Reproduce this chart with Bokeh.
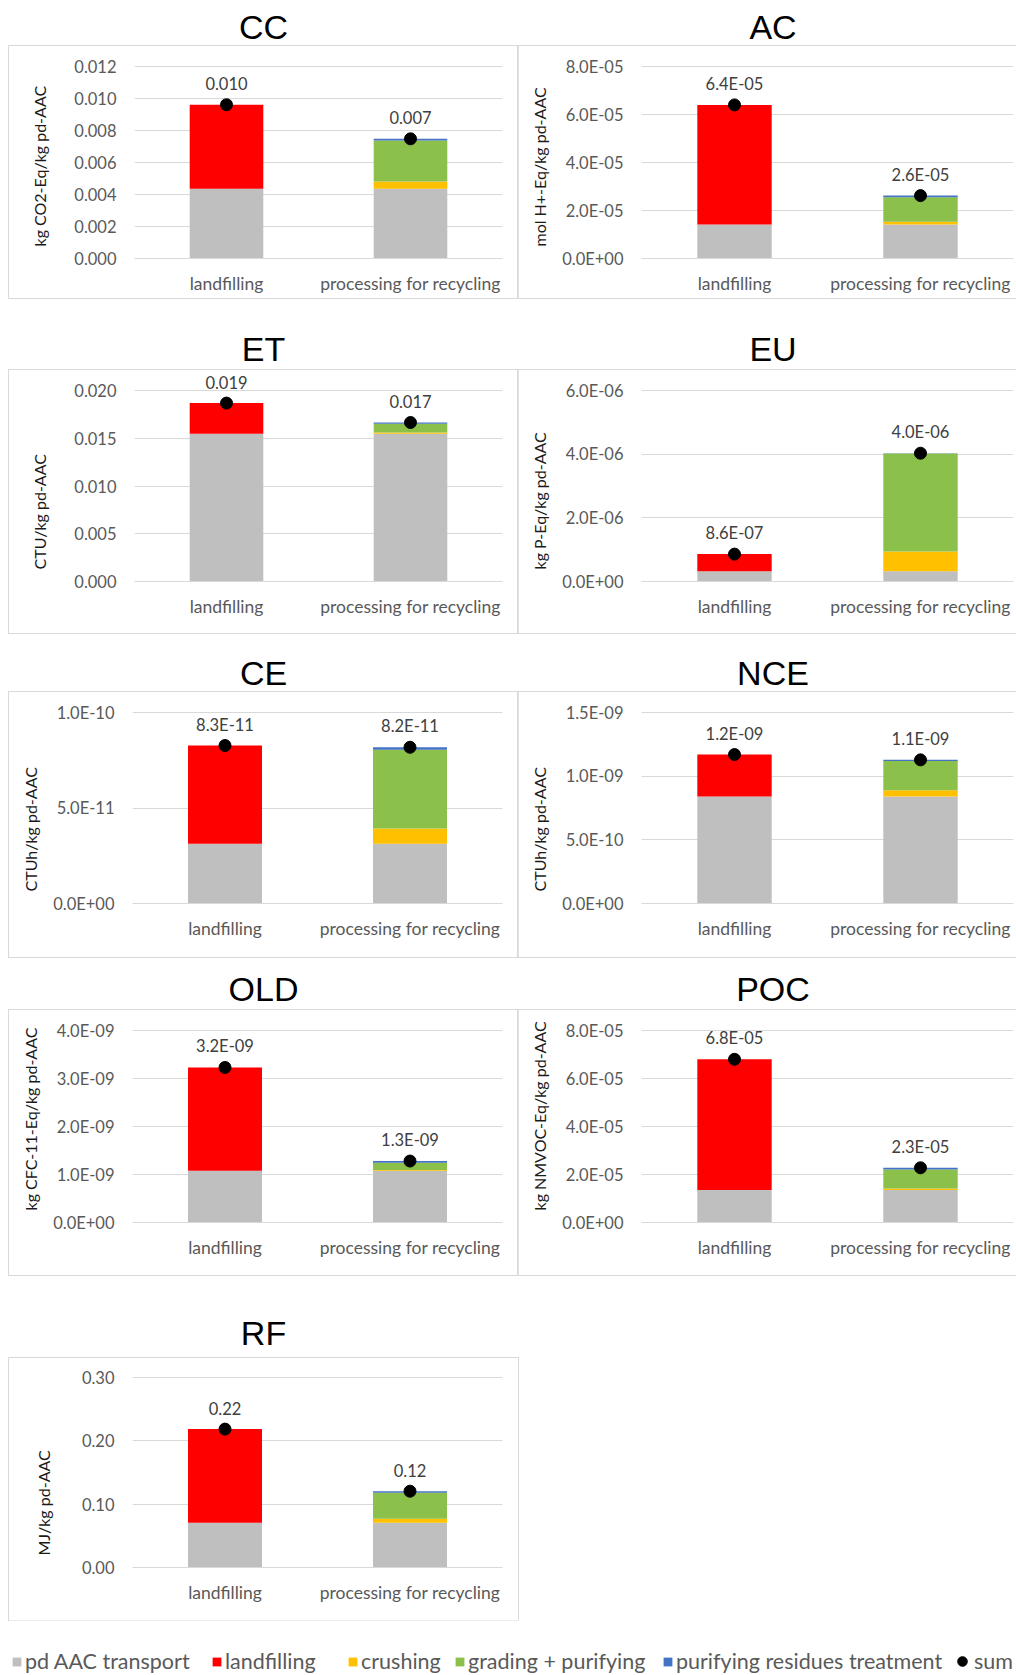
from bokeh.plotting import figure
from bokeh.models import (ColumnDataSource, FactorRange, Range1d, FixedTicker,
                          NumeralTickFormatter, CustomJSTickFormatter, Div, Spacer,
                          Legend, LegendItem, LabelSet, Title)
from bokeh.core.properties import value
from bokeh.layouts import column, row
from bokeh.embed import file_html
from bokeh.resources import INLINE

# ---------------- data ----------------
categories = ["landfilling", "processing for recycling"]
series_names = ["pd AAC transport", "landfilling", "crushing",
                "grading + purifying", "purifying residues treatment"]
series_keys = ["transport", "landfill", "crushing", "grading", "residues"]
series_colors = ["#BFBFBF", "#FF0000", "#FFC000", "#8BC14A", "#4472C4"]

# component order: transport, landfilling, crushing, grading + purifying, residues treatment
CC_landfilling = [0.00436, 0.00525, 0.0, 0.0, 0.0]
CC_processing = [0.00436, 0.0, 0.00045, 0.00257, 0.00010]
AC_landfilling = [1.42e-05, 4.98e-05, 0.0, 0.0, 0.0]
AC_processing = [1.42e-05, 0.0, 0.11e-05, 1.02e-05, 0.07e-05]
ET_landfilling = [0.01547, 0.00321, 0.0, 0.0, 0.0]
ET_processing = [0.01547, 0.0, 0.00013, 0.00092, 0.00013]
EU_landfilling = [0.32e-06, 0.54e-06, 0.0, 0.0, 0.0]
EU_processing = [0.32e-06, 0.0, 0.62e-06, 3.08e-06, 0.01e-06]
CE_landfilling = [3.13e-11, 5.14e-11, 0.0, 0.0, 0.0]
CE_processing = [3.13e-11, 0.0, 0.80e-11, 4.12e-11, 0.13e-11]
NCE_landfilling = [8.4e-10, 3.3e-10, 0.0, 0.0, 0.0]
NCE_processing = [8.4e-10, 0.0, 0.5e-10, 2.3e-10, 0.08e-10]
OLD_landfilling = [1.08e-09, 2.15e-09, 0.0, 0.0, 0.0]
OLD_processing = [1.08e-09, 0.0, 0.015e-09, 0.15e-09, 0.035e-09]
POC_landfilling = [1.35e-05, 5.45e-05, 0.0, 0.0, 0.0]
POC_processing = [1.35e-05, 0.0, 0.07e-05, 0.79e-05, 0.07e-05]
RF_landfilling = [0.0706, 0.1479, 0.0, 0.0, 0.0]
RF_processing = [0.0706, 0.0, 0.0063, 0.0411, 0.0025]

CC_ticks = [0.0, 0.002, 0.004, 0.006, 0.008, 0.010, 0.012]
AC_ticks = [0.0, 2e-05, 4e-05, 6e-05, 8e-05]
ET_ticks = [0.0, 0.005, 0.010, 0.015, 0.020]
EU_ticks = [0.0, 2e-06, 4e-06, 6e-06]
CE_ticks = [0.0, 5e-11, 1e-10]
NCE_ticks = [0.0, 5e-10, 1e-09, 1.5e-09]
OLD_ticks = [0.0, 1e-09, 2e-09, 3e-09, 4e-09]
POC_ticks = [0.0, 2e-05, 4e-05, 6e-05, 8e-05]
RF_ticks = [0.0, 0.10, 0.20, 0.30]

titles = ["CC", "AC", "ET", "EU", "CE", "NCE", "OLD", "POC", "RF"]
y_labels = ["kg CO2-Eq/kg pd-AAC", "mol H+-Eq/kg pd-AAC", "CTU/kg pd-AAC",
            "kg P-Eq/kg pd-AAC", "CTUh/kg pd-AAC", "CTUh/kg pd-AAC",
            "kg CFC-11-Eq/kg pd-AAC", "kg NMVOC-Eq/kg pd-AAC", "MJ/kg pd-AAC"]

# ---------------- style ----------------
FONT = "Lato"
GRID = "#D9D9D9"
LEFT_W, RIGHT_W = 509, 498
FRAME_TOP = 2

SCI_JS = """
const s = tick.toExponential(1);
const parts = s.split('e');
const sign = parts[1][0];
let d = parts[1].slice(1);
if (d.length < 2) d = '0' + d;
return parts[0] + 'E' + sign + d;
"""


def fmt_label(v, kind):
    if kind == "f3":
        return f"{v:.3f}"
    if kind == "f2":
        return f"{v:.2f}"
    return f"{v:.1E}"


def make_panel(land, proc, ticks, kind, ylabel, width, height, top, bottom, right, lab_standoff):
    data = {"cat": list(categories)}
    for i, k in enumerate(series_keys):
        data[k] = [land[i], proc[i]]
    totals = [sum(land), sum(proc)]
    data["total"] = totals
    data["label"] = [fmt_label(t, kind) for t in totals]
    src = ColumnDataSource(data)

    # the frame reaches above the top gridline so that labels above it stay visible
    tick_px = height - top - bottom
    frame_px = height - FRAME_TOP - bottom
    y_end = ticks[-1] * frame_px / tick_px

    p = figure(x_range=FactorRange(*categories), y_range=Range1d(ticks[0], y_end),
               width=width, height=height, toolbar_location=None, output_backend="svg",
               min_border_left=123, min_border_right=right, min_border_top=FRAME_TOP,
               min_border_bottom=bottom, outline_line_color=None,
               styles={"outline": "1px solid #D9D9D9"})
    p.vbar_stack(series_keys, x="cat", width=0.4, fill_color=series_colors,
                 line_color=None, source=src)
    p.scatter(x="cat", y="total", size=12, fill_color="black", line_color="black", source=src)
    p.add_layout(LabelSet(x="cat", y="total", text="label", y_offset=21, text_align="center",
                          text_baseline="middle", text_font=value(FONT),
                          text_font_size=value("16.5px"), text_color="#404040", source=src))

    p.yaxis.ticker = FixedTicker(ticks=ticks)
    if kind == "f3":
        p.yaxis.formatter = NumeralTickFormatter(format="0.000")
    elif kind == "f2":
        p.yaxis.formatter = NumeralTickFormatter(format="0.00")
    else:
        p.yaxis.formatter = CustomJSTickFormatter(code=SCI_JS)
    p.yaxis.axis_line_color = None
    p.yaxis.major_tick_line_color = None
    p.yaxis.minor_tick_line_color = None
    p.yaxis.major_label_standoff = 12
    p.yaxis.major_label_text_font = FONT
    p.yaxis.major_label_text_font_size = "16.5px"
    p.yaxis.major_label_text_color = "#595959"

    # y-axis title: anchored near the bottom of the plot area, as in the original
    p.add_layout(Title(text=ylabel, align="left", vertical_align="top", offset=12,
                       standoff=lab_standoff, text_font=FONT, text_font_size="16px",
                       text_font_style="normal", text_color="#1A1A1A"), "left")

    p.xaxis.axis_line_color = GRID
    p.xaxis.major_tick_line_color = None
    p.xaxis.minor_tick_line_color = None
    p.xaxis.major_label_standoff = 8
    p.xaxis.major_label_text_font = FONT
    p.xaxis.major_label_text_font_size = "17.5px"
    p.xaxis.major_label_text_color = "#595959"

    p.xgrid.grid_line_color = None
    p.ygrid.grid_line_color = GRID
    p.ygrid.grid_line_width = 1
    return p


def title_div(text, width, height, shift):
    html = (f'<div style="width:{width}px;height:{height}px;line-height:{height}px;'
            f'text-align:center;font-family:\'Liberation Sans\',Arial,sans-serif;'
            f'font-size:34px;color:#000;padding-left:{shift}px;box-sizing:border-box;">'
            f'{text}</div>')
    return Div(text=html, width=width, height=height, margin=0)


STD = {"f3": 41, "f2": 48, "sci": 17}

# row geometry: (height, top gridline offset, bottom border)
R1 = (252, 20, 40)
R2 = (263, 20, 52)
R3 = (265, 20, 54)
R4 = (265, 20, 53)
R5 = (262, 19, 53)

cc = make_panel(CC_landfilling, CC_processing, CC_ticks, "f3", y_labels[0], LEFT_W, *R1, 16, STD["f3"])
ac = make_panel(AC_landfilling, AC_processing, AC_ticks, "sci", y_labels[1], RIGHT_W, *R1, 3, STD["sci"])
et = make_panel(ET_landfilling, ET_processing, ET_ticks, "f3", y_labels[2], LEFT_W, *R2, 16, STD["f3"])
eu = make_panel(EU_landfilling, EU_processing, EU_ticks, "sci", y_labels[3], RIGHT_W, *R2, 3, STD["sci"])
ce = make_panel(CE_landfilling, CE_processing, CE_ticks, "sci", y_labels[4], LEFT_W, *R3, 16, STD["sci"])
nce = make_panel(NCE_landfilling, NCE_processing, NCE_ticks, "sci", y_labels[5], RIGHT_W, *R3, 3, STD["sci"])
old = make_panel(OLD_landfilling, OLD_processing, OLD_ticks, "sci", y_labels[6], LEFT_W, *R4, 16, STD["sci"])
poc = make_panel(POC_landfilling, POC_processing, POC_ticks, "sci", y_labels[7], RIGHT_W, *R4, 3, STD["sci"])
rf = make_panel(RF_landfilling, RF_processing, RF_ticks, "f2", y_labels[8], LEFT_W, *R5, 16, STD["f2"])

# ---------------- legend strip ----------------
leg_data = {"cat": list(categories)}
for i, k in enumerate(series_keys):
    leg_data[k] = [CC_landfilling[i], CC_processing[i]]
leg_data["total"] = [sum(CC_landfilling), sum(CC_processing)]
leg_src = ColumnDataSource(leg_data)

LEG_W = LEFT_W + RIGHT_W
lf = figure(width=LEG_W, height=54, x_range=FactorRange(*categories),
            y_range=Range1d(CC_ticks[0], CC_ticks[-1]), x_axis_type=None, y_axis_type=None,
            toolbar_location=None, output_backend="svg", min_border=0,
            outline_line_color=None)
bars = lf.vbar_stack(series_keys, x="cat", width=0.4, fill_color=series_colors,
                     line_color=None, source=leg_src)
dots = lf.scatter(x="cat", y="total", size=12, fill_color="black", line_color="black",
                  source=leg_src)
for r in bars:
    r.visible = False
dots.visible = False

LEG_X = [2, 202, 338, 445, 653]
legend_style = dict(orientation="horizontal", padding=0, margin=0, border_line_color=None,
                    background_fill_alpha=0, label_text_font=FONT,
                    label_text_font_size="21.5px", label_text_color="#595959",
                    click_policy="none")
for name, r, x in zip(series_names, bars, LEG_X):
    lf.add_layout(Legend(items=[LegendItem(label=name, renderers=[r])], location=(x, 0),
                         glyph_width=11, glyph_height=11, label_standoff=3, **legend_style))
lf.add_layout(Legend(items=[LegendItem(label="sum", renderers=[dots])], location=(941, 0),
                     glyph_width=24, glyph_height=24, label_standoff=0, **legend_style))

main = column(
    row(title_div(titles[0], LEFT_W, 38, 0), title_div(titles[1], RIGHT_W, 38, 12)),
    row(cc, ac),
    Spacer(height=30, margin=0),
    row(title_div(titles[2], LEFT_W, 42, 0), title_div(titles[3], RIGHT_W, 42, 12)),
    row(et, eu),
    Spacer(height=21, margin=0),
    row(title_div(titles[4], LEFT_W, 38, 0), title_div(titles[5], RIGHT_W, 38, 12)),
    row(ce, nce),
    Spacer(height=11, margin=0),
    row(title_div(titles[6], LEFT_W, 42, 0), title_div(titles[7], RIGHT_W, 42, 12)),
    row(old, poc),
    Spacer(height=33, margin=0),
    row(title_div(titles[8], LEFT_W, 50, 0), Spacer(width=RIGHT_W, height=50, margin=0)),
    row(rf, Spacer(width=RIGHT_W, height=R5[0], margin=0)),
    lf,
)

layout = column(Spacer(height=8, margin=0), row(Spacer(width=9, margin=0), main))

open("out.html", "w").write(file_html(layout, INLINE))
